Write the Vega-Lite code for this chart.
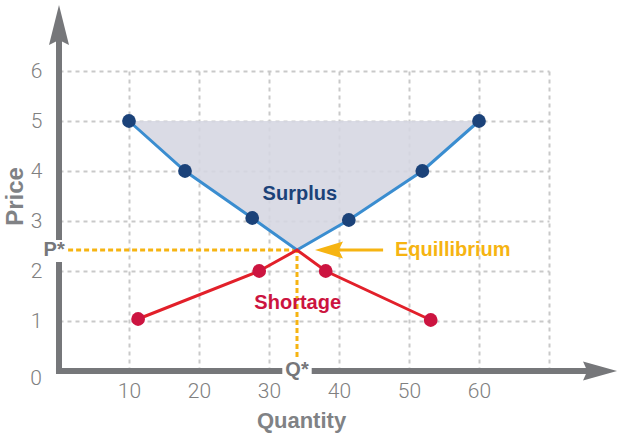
{
  "$schema": "https://vega.github.io/schema/vega-lite/v6.json",
  "width": 490,
  "height": 300,
  "autosize": {"type": "none"},
  "padding": {"left": 59, "top": 71, "right": 69, "bottom": 65},
  "background": "white",
  "config": {"view": {"stroke": null}},
  "datasets": {
    "blue": [
      {"q": 10, "p": 5, "dot": true},
      {"q": 18, "p": 4, "dot": true},
      {"q": 27.6, "p": 3.06, "dot": true},
      {"q": 34, "p": 2.42, "dot": false},
      {"q": 41.4, "p": 3.02, "dot": true},
      {"q": 51.9, "p": 4, "dot": true},
      {"q": 60, "p": 5, "dot": true}
    ],
    "red": [
      {"q": 11.3, "p": 1.04, "dot": true},
      {"q": 28.6, "p": 2, "dot": true},
      {"q": 34, "p": 2.42, "dot": false},
      {"q": 38.1, "p": 2, "dot": true},
      {"q": 53.1, "p": 1.02, "dot": true}
    ],
    "vaxis": [
      {"x": 0, "y1": -0.06, "y2": 2.18},
      {"x": 0, "y1": 2.62, "y2": 6.7}
    ],
    "haxis": [
      {"y": 0, "x1": -0.43, "x2": 31.9},
      {"y": 0, "x1": 36.1, "x2": 76.5}
    ],
    "hdash": [{"x1": 1.3, "x2": 34, "y": 2.42}],
    "vdash": [{"x": 34, "y1": 0.28, "y2": 2.42}]
  },
  "encoding": {
    "x": {"type": "quantitative", "scale": {"domain": [0, 70], "nice": false, "zero": false}},
    "y": {"type": "quantitative", "scale": {"domain": [0, 6], "nice": false, "zero": false}}
  },
  "layer": [
    {
      "data": {"values": [{"q": 0, "p": 0}]},
      "mark": {"type": "point", "opacity": 0},
      "encoding": {
        "x": {"field": "q", "type": "quantitative",
          "axis": {"values": [10, 20, 30, 40, 50, 60, 70], "labelExpr": "datum.value == 70 ? '' : datum.label",
            "grid": true, "gridColor": "#c9c9c9", "gridDash": [4, 4], "gridWidth": 2,
            "domain": false, "ticks": false, "labelPadding": 9, "labelFont": "Roboto", "labelFontWeight": 300,
            "labelFontSize": 21, "labelColor": "#808080",
            "title": "Quantity", "titleFont": "Liberation Sans", "titleFontSize": 22, "titleFontWeight": "bold",
            "titleColor": "#808285", "titleX": 242, "titleY": 49, "titleBaseline": "middle", "titleAlign": "center"}},
        "y": {"field": "p", "type": "quantitative",
          "axis": {"values": [1, 2, 3, 4, 5, 6],
            "grid": true, "gridColor": "#c9c9c9", "gridDash": [4, 4], "gridWidth": 2,
            "domain": false, "ticks": false, "labelPadding": 17, "labelFont": "Roboto", "labelFontWeight": 300,
            "labelFontSize": 21, "labelColor": "#808080",
            "title": "Price", "titleFont": "Liberation Sans", "titleFontSize": 24, "titleFontWeight": "bold",
            "titleColor": "#808285", "titleX": -44, "titleY": 125, "titleAngle": -90, "titleBaseline": "middle", "titleAlign": "center"}}
      }
    },
    {
      "data": {"name": "blue"},
      "mark": {"type": "area", "color": "#d5d6e1", "opacity": 0.88},
      "encoding": {
        "x": {"field": "q", "type": "quantitative"},
        "y": {"field": "p", "type": "quantitative"},
        "y2": {"datum": 5}
      }
    },
    {
      "data": {"name": "hdash"},
      "mark": {"type": "rule", "color": "#f6b412", "strokeWidth": 3, "strokeDash": [5, 3]},
      "encoding": {
        "x": {"field": "x1", "type": "quantitative"},
        "x2": {"field": "x2"},
        "y": {"field": "y", "type": "quantitative"}
      }
    },
    {
      "data": {"name": "vdash"},
      "mark": {"type": "rule", "color": "#f6b412", "strokeWidth": 3, "strokeDash": [5, 3]},
      "encoding": {
        "x": {"field": "x", "type": "quantitative"},
        "y": {"field": "y1", "type": "quantitative"},
        "y2": {"field": "y2"}
      }
    },
    {
      "data": {"name": "vaxis"},
      "mark": {"type": "rule", "color": "#76777a", "strokeWidth": 6},
      "encoding": {
        "x": {"field": "x", "type": "quantitative"},
        "y": {"field": "y1", "type": "quantitative"},
        "y2": {"field": "y2"}
      }
    },
    {
      "data": {"name": "haxis"},
      "mark": {"type": "rule", "color": "#76777a", "strokeWidth": 6},
      "encoding": {
        "x": {"field": "x1", "type": "quantitative"},
        "x2": {"field": "x2"},
        "y": {"field": "y", "type": "quantitative"}
      }
    },
    {
      "data": {"values": [{"x": 0, "y": 6.92}]},
      "mark": {"type": "point", "shape": "M0,-1 L0.5,1 L0,0.75 L-0.5,1 Z", "size": 1600, "filled": true, "color": "#76777a", "opacity": 1},
      "encoding": {
        "x": {"field": "x", "type": "quantitative"},
        "y": {"field": "y", "type": "quantitative"}
      }
    },
    {
      "data": {"values": [{"x": 77.29, "y": 0}]},
      "mark": {"type": "point", "shape": "M1,0 L-1,-0.56 L-0.75,0 L-1,0.56 Z", "size": 1156, "filled": true, "color": "#76777a", "opacity": 1},
      "encoding": {
        "x": {"field": "x", "type": "quantitative"},
        "y": {"field": "y", "type": "quantitative"}
      }
    },
    {
      "data": {"name": "blue"},
      "mark": {"type": "line", "color": "#3a8dd0", "strokeWidth": 3},
      "encoding": {
        "x": {"field": "q", "type": "quantitative"},
        "y": {"field": "p", "type": "quantitative"}
      }
    },
    {
      "data": {"name": "red"},
      "mark": {"type": "line", "color": "#e2202a", "strokeWidth": 3},
      "encoding": {
        "x": {"field": "q", "type": "quantitative"},
        "y": {"field": "p", "type": "quantitative"}
      }
    },
    {
      "data": {"name": "blue"},
      "transform": [{"filter": "datum.dot"}],
      "mark": {"type": "circle", "color": "#1b4279", "size": 190, "opacity": 1},
      "encoding": {
        "x": {"field": "q", "type": "quantitative"},
        "y": {"field": "p", "type": "quantitative"}
      }
    },
    {
      "data": {"name": "red"},
      "transform": [{"filter": "datum.dot"}],
      "mark": {"type": "circle", "color": "#cc1440", "size": 190, "opacity": 1},
      "encoding": {
        "x": {"field": "q", "type": "quantitative"},
        "y": {"field": "p", "type": "quantitative"}
      }
    },
    {
      "data": {"values": [{"x1": 39.5, "x2": 46.3, "y": 2.42}]},
      "mark": {"type": "rule", "color": "#f6b412", "strokeWidth": 3},
      "encoding": {
        "x": {"field": "x1", "type": "quantitative"},
        "x2": {"field": "x2"},
        "y": {"field": "y", "type": "quantitative"}
      }
    },
    {
      "data": {"values": [{"x": 38.57, "y": 2.42}]},
      "mark": {"type": "point", "shape": "M-1,0 L1,-0.6 L0.7,0 L1,0.6 Z", "size": 784, "filled": true, "color": "#f6b412", "opacity": 1},
      "encoding": {
        "x": {"field": "x", "type": "quantitative"},
        "y": {"field": "y", "type": "quantitative"}
      }
    },
    {
      "data": {"values": [{"x": 48.0, "y": 2.42, "t": "Equillibrium"}]},
      "mark": {"type": "text", "font": "Liberation Sans", "fontWeight": "bold", "fontSize": 20, "baseline": "middle", "align": "left", "color": "#f6b412"},
      "encoding": {
        "x": {"field": "x", "type": "quantitative"},
        "y": {"field": "y", "type": "quantitative"},
        "text": {"field": "t"}
      }
    },
    {
      "data": {"values": [
        {"x": 34.4, "y": 3.54, "t": "Surplus", "c": "#1b4279"},
        {"x": 34.1, "y": 1.36, "t": "Shortage", "c": "#cc1440"},
        {"x": -0.7, "y": 2.42, "t": "P*", "c": "#76777a"},
        {"x": 34.0, "y": 0.02, "t": "Q*", "c": "#76777a"}
      ]},
      "mark": {"type": "text", "font": "Liberation Sans", "fontWeight": "bold", "fontSize": 20, "baseline": "middle", "align": "center"},
      "encoding": {
        "x": {"field": "x", "type": "quantitative"},
        "y": {"field": "y", "type": "quantitative"},
        "text": {"field": "t"},
        "color": {"field": "c", "type": "nominal", "scale": null}
      }
    },
    {
      "data": {"values": [{"x": 0, "y": 0, "t": "0"}]},
      "mark": {"type": "text", "font": "Roboto", "fontWeight": 300, "fontSize": 21, "color": "#808080", "align": "center", "baseline": "middle", "dx": -23, "dy": 8},
      "encoding": {
        "x": {"field": "x", "type": "quantitative"},
        "y": {"field": "y", "type": "quantitative"},
        "text": {"field": "t"}
      }
    }
  ]
}
